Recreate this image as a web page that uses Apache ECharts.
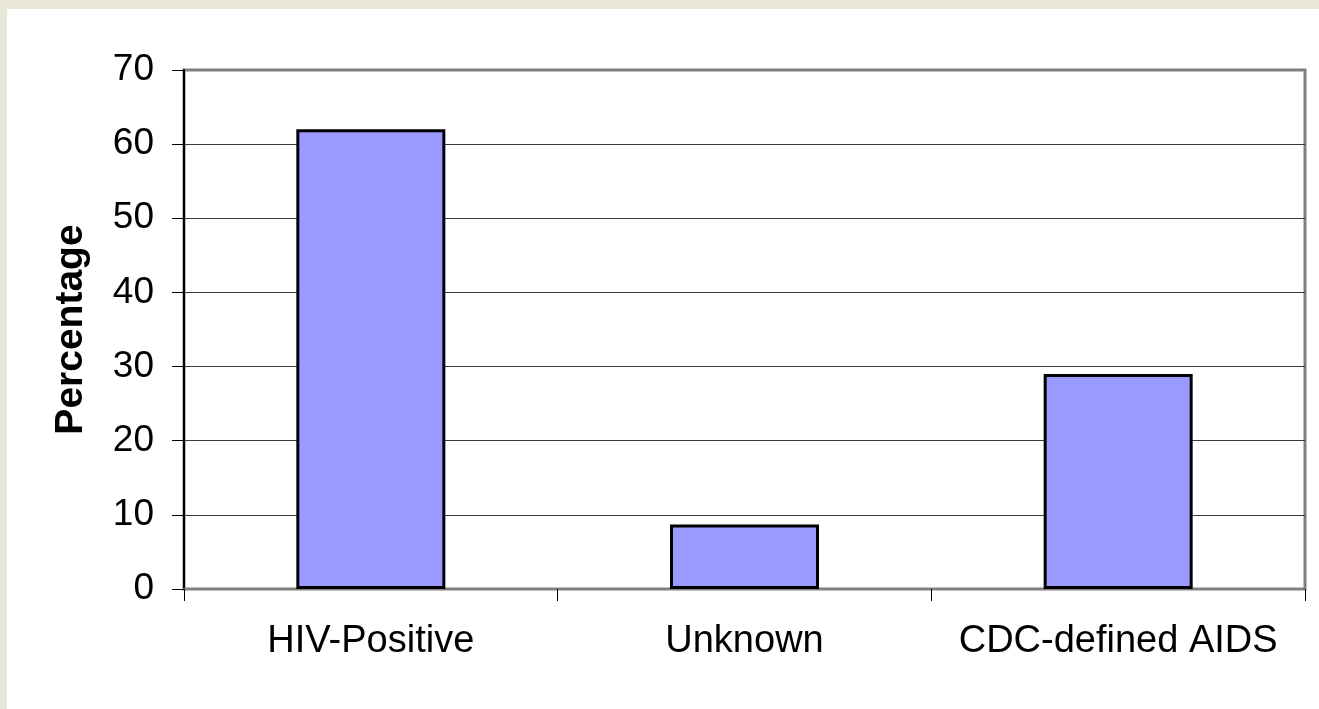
<!DOCTYPE html>
<html>
<head>
<meta charset="utf-8">
<script src="https://cdn.jsdelivr.net/npm/echarts@6/dist/echarts.min.js"></script>
<style>
html,body{margin:0;padding:0;background:#e8e7d5;}
#chart{position:absolute;left:0;top:0;width:1319px;height:709px;}
</style>
</head>
<body>
<div id="chart"></div>
<script>
var categories = ['HIV-Positive', 'Unknown', 'CDC-defined AIDS'];
var percentages = [62, 8.7, 29];
var yTicks = {min: 0, max: 70, interval: 10};
var yAxisName = 'Percentage';

var FONT = '"Liberation Sans", Arial, sans-serif';
var chart = echarts.init(document.getElementById('chart'), null, {renderer: 'canvas'});
chart.setOption({
  animation: false,
  backgroundColor: 'transparent',
  graphic: [{
    type: 'rect', z: -10, silent: true,
    shape: {x: 7, y: 9, width: 1319, height: 709},
    style: {fill: '#ffffff'}
  }],
  grid: {
    left: 184, top: 70, right: 14, bottom: 120,
    show: true, borderColor: '#808080', borderWidth: 3, backgroundColor: 'transparent'
  },
  xAxis: {
    type: 'category',
    data: categories,
    boundaryGap: true,
    axisLine: {lineStyle: {color: '#808080', width: 2}},
    axisTick: {show: true, length: 12, alignWithLabel: false, lineStyle: {color: '#000', width: 1}},
    axisLabel: {interval: 0, color: '#000', fontFamily: FONT, fontSize: 38, margin: 34}
  },
  yAxis: {
    type: 'value',
    min: yTicks.min, max: yTicks.max, interval: yTicks.interval,
    name: yAxisName,
    nameLocation: 'middle',
    nameGap: 93,
    nameTextStyle: {color: '#000', fontFamily: FONT, fontSize: 39, fontWeight: 'bold'},
    axisLine: {show: true, lineStyle: {color: '#000', width: 2}},
    axisTick: {show: true, length: 12, lineStyle: {color: '#000', width: 1}},
    axisLabel: {color: '#000', fontFamily: FONT, fontSize: 37, margin: 30},
    splitLine: {show: true, showMinLine: false, showMaxLine: false, lineStyle: {color: '#3a3a3a', width: 1.2}}
  },
  series: [{
    type: 'bar',
    data: percentages,
    barWidth: 149,
    itemStyle: {color: '#9999ff', borderColor: '#000', borderWidth: 3}
  }]
});
</script>
</body>
</html>
